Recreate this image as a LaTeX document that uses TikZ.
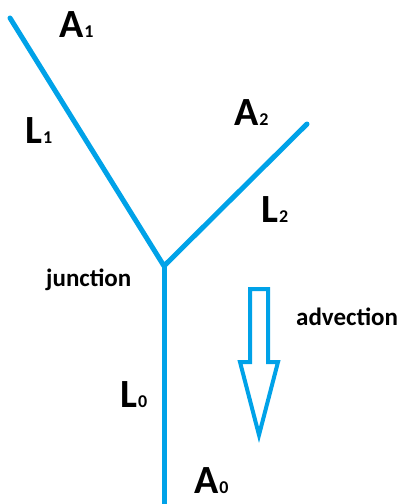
\documentclass[tikz,border=0pt]{standalone}
\usepackage{fontspec}
\setmainfont{Carlito}
\definecolor{paintblue}{HTML}{00A2E8}
\tikzset{
  riverline/.style={draw=paintblue, line width=5pt, line cap=round, line join=round},
  bigarrow/.style={draw=paintblue, line width=4pt, line join=miter},
  lbl/.style={anchor=base west, inner sep=0pt, font=\bfseries},
  wordlbl/.style={lbl, font=\bfseries\fontsize{25}{25}\selectfont},
}
\newcommand{\bigsym}[2]{{\fontsize{40}{40}\selectfont #1}\kern1pt{\fontsize{18}{18}\selectfont #2}}
\begin{document}
\begin{tikzpicture}[x=1pt,y=-1pt]
\useasboundingbox (0,0) rectangle (404,504);
\coordinate (e1) at (10,18);
\coordinate (e2) at (307,124);
\coordinate (j) at (164,266);
\coordinate (e0) at (164,506);
\draw[riverline] (e1) -- (j) -- (e2);
\draw[riverline, line cap=butt] (j) -- (e0);
% advection arrow
\draw[bigarrow] (250,289) -- (268,289) -- (268,362) -- (278,362) -- (259,435) -- (240,362) -- (250,362) -- cycle;
\node[lbl] (a1) at (59,37) {\bigsym{A}{1}};
\node[lbl] (l1) at (25,143) {\bigsym{L}{1}};
\node[lbl] (a2) at (234,125) {\bigsym{A}{2}};
\node[lbl] (l2) at (261,222) {\bigsym{L}{2}};
\node[lbl] (l0) at (120,407) {\bigsym{L}{0}};
\node[lbl] (a0) at (194,493) {\bigsym{A}{0}};
\node[wordlbl] (jn) at (46,286) {junction};
\node[wordlbl] (adv) at (296,325) {advection};
\end{tikzpicture}
\end{document}
